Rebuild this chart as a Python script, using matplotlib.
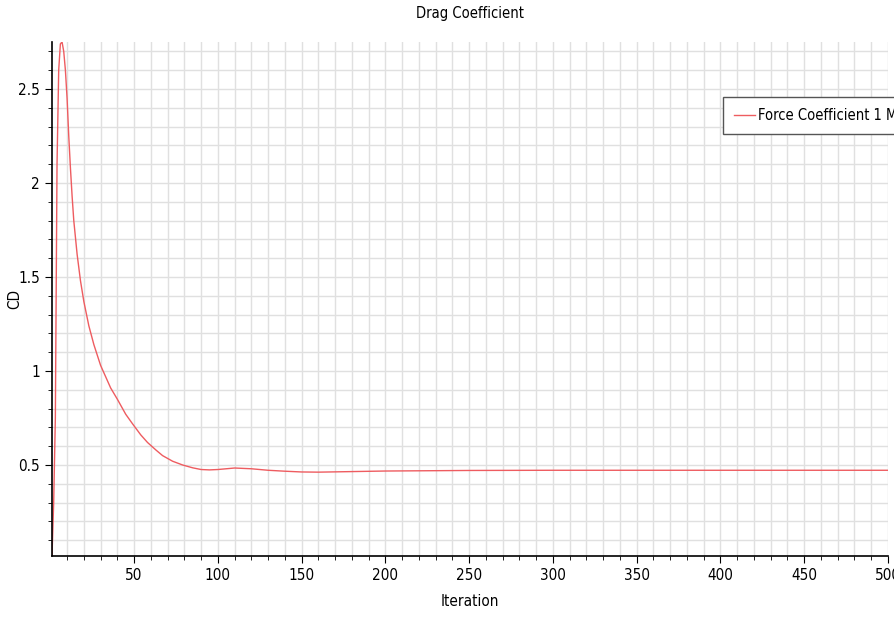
import matplotlib
matplotlib.use("Agg")
import matplotlib.pyplot as plt
from matplotlib.ticker import MultipleLocator

# values
iterations = [1, 2, 3, 4, 5, 6, 7, 8, 9, 10, 11, 12, 13, 14, 16, 18, 20, 23, 26,
              30, 33, 36, 40, 45, 49, 54, 58, 63, 67, 73, 79, 85, 90, 95, 100,
              110, 120, 130, 140, 150, 160, 180, 200, 250, 300, 400, 500]
cd_values = [0.016, 0.3, 0.75, 2.1, 2.6, 2.74, 2.75, 2.7, 2.6, 2.45, 2.25, 2.08,
             1.93, 1.8, 1.62, 1.48, 1.37, 1.24, 1.14, 1.03, 0.97, 0.91, 0.85,
             0.77, 0.72, 0.66, 0.62, 0.58, 0.55, 0.52, 0.50, 0.485, 0.476,
             0.474, 0.476, 0.484, 0.480, 0.472, 0.467, 0.463, 0.462, 0.465,
             0.468, 0.471, 0.472, 0.472, 0.472]
series_label = "Force Coefficient 1 Monitor"

plt.rcParams["font.family"] = ["DejaVu Sans"]
plt.rcParams["font.stretch"] = "condensed"

fig = plt.figure(figsize=(8.95, 6.28), dpi=100)
ax = fig.add_axes([52 / 895, 1 - 556 / 628, 836 / 895, 514 / 628])

ax.plot(iterations, cd_values, color="#ee5c60", lw=1.0, label=series_label)

ax.set_xlim(1, 500)
ax.set_ylim(0.016, 2.75)
ax.xaxis.set_major_locator(MultipleLocator(50))
ax.xaxis.set_minor_locator(MultipleLocator(10))
ax.yaxis.set_major_locator(MultipleLocator(0.5))
ax.yaxis.set_minor_locator(MultipleLocator(0.1))
ax.grid(which="both", color="#e0e0e0", lw=1.0)
ax.set_axisbelow(True)

for side in ("top", "right"):
    ax.spines[side].set_visible(False)
for side in ("left", "bottom"):
    ax.spines[side].set_color("black")
    ax.spines[side].set_linewidth(1.2)
ax.tick_params(which="major", length=5, labelsize=11, color="black")
ax.tick_params(which="minor", length=3, color="black")
ax.xaxis.set_major_formatter(plt.FuncFormatter(lambda v, p: f"{v:g}"))
ax.yaxis.set_major_formatter(plt.FuncFormatter(lambda v, p: f"{v:g}"))

ax.set_title("Drag Coefficient", fontsize=10.5, pad=17)
ax.set_xlabel("Iteration", fontsize=11, labelpad=8)
ax.set_ylabel("CD", fontsize=11)
ax.yaxis.set_label_coords(-0.035, 0.5)

leg = ax.legend(loc="upper left", bbox_to_anchor=(0.803, 0.893), fontsize=10.5,
                fancybox=False, edgecolor="#555555", handlelength=1.4,
                handletextpad=0.25, borderpad=0.75, borderaxespad=0,
                framealpha=1)
leg.get_frame().set_linewidth(1.0)

fig.savefig("out.png", dpi=100)
